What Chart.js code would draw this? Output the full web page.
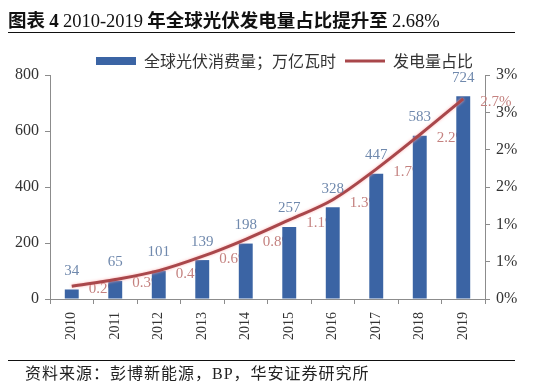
<!DOCTYPE html>
<html>
<head>
<meta charset="utf-8">
<script src="https://cdn.jsdelivr.net/npm/chart.js@4"></script>
<style>
  body { margin: 0; background: #fff; }
  #wrap { position: relative; width: 554px; height: 384px; overflow: hidden; }
  #myChart { position: absolute; left: 0; top: 0; }
  .title { position: absolute; left: 8px; top: 6px; font-size: 18.5px; font-weight: bold; color: #111; white-space: nowrap;
           font-family: "Noto Sans CJK SC", sans-serif; }
  .title .num { font-family: "Liberation Serif", serif; font-weight: normal; font-size: 18.5px; }
  .title .b { font-family: "Liberation Serif", serif; font-weight: bold; font-size: 19px; }
  .rule { position: absolute; left: 8px; width: 507px; height: 0; border-top: 1.5px solid #111; }
  .source { position: absolute; left: 25px; top: 360px; font-size: 16px; letter-spacing: 1px; color: #222; white-space: nowrap;
            font-family: "Liberation Serif", "Noto Sans CJK SC", serif; }
</style>
</head>
<body>
<div id="wrap">
  <canvas id="myChart" width="554" height="384"></canvas>
  <div class="title">图表 <span class="b">4</span> <span class="num">2010-2019</span> 年全球光伏发电量占比提升至 <span class="num">2.68%</span></div>
  <div class="rule" style="top:32px"></div>
  <div class="rule" style="top:360px"></div>
  <div class="source">资料来源：彭博新能源，BP，华安证券研究所</div>
</div>
<script>
const years = ["2010", "2011", "2012", "2013", "2014", "2015", "2016", "2017", "2018", "2019"];
const consumption = [34, 65, 101, 139, 198, 257, 328, 447, 583, 724];
const sharePct = [0.17, 0.26, 0.38, 0.57, 0.8, 1.06, 1.33, 1.74, 2.2, 2.68];
const barLabel = "全球光伏消费量；万亿瓦时";
const lineLabel = "发电量占比";

const serif = "'Liberation Serif', serif";

// data labels: line labels under the bars, bar labels on top
const labelPlugin = {
  id: 'labels',
  beforeLayout(chart) {
    // legend sits a bit closer to the plot than chart.js allows
    const lg = chart.legend;
    if (lg && !lg._tight) {
      const fit = lg.fit.bind(lg);
      lg.fit = function () { fit(); this.height -= 4; };
      lg._tight = true;
    }
  },
  beforeDatasetsDraw(chart) {
    const ctx = chart.ctx;
    const meta = chart.getDatasetMeta(1);
    ctx.save();
    ctx.font = "15px " + serif;
    ctx.fillStyle = "#c4817f";
    ctx.textAlign = "left";
    ctx.textBaseline = "middle";
    meta.data.forEach((pt, i) => {
      ctx.fillText(sharePct[i].toFixed(1) + "%", pt.x + 17, pt.y + 3);
    });
    ctx.restore();
  },
  beforeDatasetDraw(chart, args) {
    if (args.index === 1) {
      chart.ctx.save();
      chart.ctx.shadowColor = "rgba(255,170,170,0.9)";
      chart.ctx.shadowBlur = 3;
    }
  },
  afterDatasetDraw(chart, args) {
    if (args.index === 1) chart.ctx.restore();
  },
  afterDatasetsDraw(chart) {
    const ctx = chart.ctx;
    const meta = chart.getDatasetMeta(0);
    ctx.save();
    ctx.font = "15px " + serif;
    ctx.fillStyle = "#7089ad";
    ctx.textAlign = "center";
    ctx.textBaseline = "bottom";
    meta.data.forEach((bar, i) => {
      ctx.fillText(consumption[i], bar.x, bar.y - 11);
    });
    ctx.restore();
  }
};

new Chart("myChart", {
  type: "bar",
  data: {
    labels: years,
    datasets: [{
      label: barLabel,
      data: consumption,
      backgroundColor: "#3b64a4",
      barPercentage: 0.32,
      categoryPercentage: 1,
      yAxisID: "y",
      order: 1,
      pointStyle: "rect"
    }, {
      type: "line",
      label: lineLabel,
      data: sharePct,
      borderColor: "#a9474b",
      backgroundColor: "#a9474b",
      borderWidth: 3,
      pointRadius: 0,
      tension: 0.35,
      fill: false,
      yAxisID: "y1",
      order: 0,
      pointStyle: "line"
    }]
  },
  options: {
    responsive: false,
    animation: false,
    layout: { padding: { left: 15, right: 0, top: 44, bottom: 0 } },
    plugins: {
      tooltip: { enabled: false },
      legend: {
        labels: {
          usePointStyle: true,
          pointStyleWidth: 40,
          boxHeight: 8,
          padding: 9,
          color: "#333",
          font: { size: 16, family: "'Noto Sans CJK SC', sans-serif" },
          sort: (a, b) => a.datasetIndex - b.datasetIndex
        }
      }
    },
    scales: {
      x: {
        grid: { display: true, drawOnChartArea: false, tickLength: 5, color: "#8c8c8c" },
        border: { color: "#8c8c8c" },
        ticks: { color: "#333", font: { size: 14, family: serif }, minRotation: 90, maxRotation: 90, padding: 8 },
        afterFit(scale) { scale.height = 85; }
      },
      y: {
        min: 0, max: 800,
        ticks: { stepSize: 200, color: "#333", font: { size: 16, family: serif }, padding: 6 },
        grid: { display: true, drawOnChartArea: false, tickLength: 5, color: "#8c8c8c" },
        border: { color: "#8c8c8c" },
        afterFit(scale) { scale.width = 35; }
      },
      y1: {
        position: "right",
        min: 0, max: 3,
        ticks: { stepSize: 0.5, color: "#333", font: { size: 16, family: serif }, padding: 6,
                 callback: v => Math.round(v) + "%" },
        grid: { display: true, drawOnChartArea: false, tickLength: 5, color: "#8c8c8c" },
        border: { color: "#8c8c8c" },
        afterFit(scale) { scale.width = 69; }
      }
    }
  },
  plugins: [labelPlugin]
});
</script>
</body>
</html>
